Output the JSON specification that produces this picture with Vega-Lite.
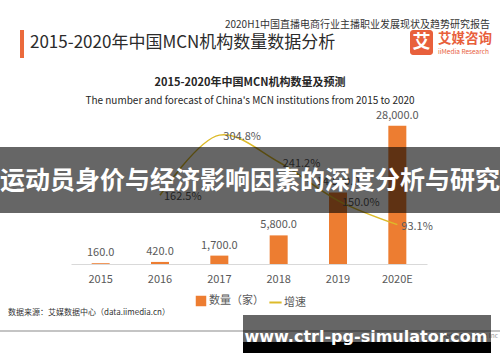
{
  "$schema": "https://vega.github.io/schema/vega-lite/v6.json",
  "width": 356,
  "height": 148,
  "autosize": {"type": "none"},
  "padding": {"left": 71, "top": 116, "right": 73, "bottom": 98},
  "background": "white",
  "config": {
    "font": "Noto Sans CJK SC",
    "view": {"stroke": null},
    "axis": {"labelFont": "Noto Sans CJK SC", "labelColor": "#595959", "labelFontSize": 11, "grid": false, "ticks": false, "domain": false, "title": null},
    "legend": {"labelFont": "Noto Sans CJK SC", "labelColor": "#595959", "labelFontSize": 11, "title": null}
  },
  "datasets": {
    "main": [
      {"year": "2015", "count": 160, "growth": null},
      {"year": "2016", "count": 420, "growth": 1.625},
      {"year": "2017", "count": 1700, "growth": 3.048},
      {"year": "2018", "count": 5800, "growth": 2.412},
      {"year": "2019", "count": 14500, "growth": 1.5},
      {"year": "2020E", "count": 28000, "growth": 0.931}
    ]
  },
  "layer": [
    {
      "data": {"name": "main"},
      "layer": [
        {
          "mark": {"type": "bar", "size": 18},
          "encoding": {
            "x": {"field": "year", "type": "nominal", "sort": null, "axis": {"domain": true, "domainColor": "#d9d9d9", "labelPadding": 9, "labelAngle": 0}},
            "y": {"field": "count", "type": "quantitative", "scale": {"domain": [0, 30000], "nice": false}, "axis": {"values": [0, 5000, 10000, 15000, 20000, 25000, 30000], "format": "d", "labelPadding": 10}},
            "color": {"datum": "数量（家）", "scale": {"range": ["#ED7D31"]}, "legend": {"orient": "none", "legendX": 124, "legendY": 179, "symbolType": "square", "symbolSize": 110, "labelOffset": 2}}
          }
        },
        {
          "mark": {"type": "text", "dy": -10, "fontSize": 11, "color": "#595959"},
          "encoding": {
            "x": {"field": "year", "type": "nominal", "sort": null},
            "y": {"field": "count", "type": "quantitative", "axis": null},
            "text": {"field": "count", "type": "quantitative", "format": ",.1f"}
          }
        }
      ]
    },
    {
      "data": {"name": "main"},
      "transform": [{"filter": "datum.growth != null"}],
      "layer": [
        {
          "mark": {"type": "line", "interpolate": "catmull-rom", "strokeWidth": 1.5},
          "encoding": {
            "x": {"field": "year", "type": "nominal", "sort": null},
            "y": {"field": "growth", "type": "quantitative", "scale": {"domain": [0, 3.5], "nice": false}, "axis": {"orient": "right", "values": [0, 0.5, 1, 1.5, 2, 2.5, 3, 3.5], "format": ".0%", "labelPadding": 12}},
            "stroke": {"datum": "增速", "scale": {"range": ["#DDBB2A"]}, "legend": {"orient": "none", "legendX": 197, "legendY": 179, "symbolType": "stroke", "symbolStrokeWidth": 2, "symbolSize": 150, "labelOffset": 1}}
          }
        },
        {
          "mark": {"type": "text", "align": "left", "dx": 4, "dy": 2, "fontSize": 11, "color": "#595959"},
          "encoding": {
            "x": {"field": "year", "type": "nominal", "sort": null},
            "y": {"field": "growth", "type": "quantitative", "axis": null},
            "text": {"field": "growth", "type": "quantitative", "format": ".1%"}
          }
        }
      ]
    },
    {
      "data": {"values": [{"t": "2015-2020年中国MCN机构数量及预测"}]},
      "mark": {"type": "text", "align": "center", "baseline": "middle", "fontSize": 11, "fontWeight": "bold", "color": "#262626"},
      "encoding": {"x": {"value": 179}, "y": {"value": -33}, "text": {"field": "t"}}
    },
    {
      "data": {"values": [{"t": "The number and forecast of China's MCN institutions from 2015 to 2020"}]},
      "mark": {"type": "text", "align": "center", "baseline": "middle", "fontSize": 10, "color": "#262626"},
      "encoding": {"x": {"value": 179}, "y": {"value": -15}, "text": {"field": "t"}}
    },
    {
      "data": {"values": [{"k": 1}]},
      "mark": {"type": "rect", "color": "#EB6A3C"},
      "encoding": {"x": {"value": -51}, "x2": {"value": -47}, "y": {"value": -86}, "y2": {"value": -58}}
    },
    {
      "data": {"values": [{"t": "2015-2020年中国MCN机构数量数据分析"}]},
      "mark": {"type": "text", "align": "left", "baseline": "middle", "fontSize": 17, "color": "#2b2b2b"},
      "encoding": {"x": {"value": -41}, "y": {"value": -73}, "text": {"field": "t"}}
    },
    {
      "data": {"values": [{"t": "2020H1中国直播电商行业主播职业发展现状及趋势研究报告"}]},
      "mark": {"type": "text", "align": "right", "baseline": "middle", "fontSize": 10, "color": "#333333"},
      "encoding": {"x": {"value": 419}, "y": {"value": -91}, "text": {"field": "t"}}
    },
    {
      "data": {"values": [{"k": 1}]},
      "mark": {"type": "rect", "color": "#E8603C", "cornerRadius": 3},
      "encoding": {"x": {"value": 339}, "x2": {"value": 362}, "y": {"value": -86}, "y2": {"value": -61}}
    },
    {
      "data": {"values": [{"t": "艾"}]},
      "mark": {"type": "text", "align": "center", "baseline": "middle", "fontSize": 18, "fontWeight": "bold", "color": "white"},
      "encoding": {"x": {"value": 350.5}, "y": {"value": -73.5}, "text": {"field": "t"}}
    },
    {
      "data": {"values": [{"t": "艾媒咨询"}]},
      "mark": {"type": "text", "align": "left", "baseline": "middle", "fontSize": 13.5, "fontWeight": "bold", "color": "#E8603C"},
      "encoding": {"x": {"value": 367}, "y": {"value": -77}, "text": {"field": "t"}}
    },
    {
      "data": {"values": [{"t": "iiMedia Research"}]},
      "mark": {"type": "text", "align": "left", "baseline": "middle", "fontSize": 6.5, "color": "#E8603C"},
      "encoding": {"x": {"value": 367}, "y": {"value": -64}, "text": {"field": "t"}}
    },
    {
      "data": {"values": [{"t": "数据来源：艾媒数据中心（data.iimedia.cn）"}]},
      "mark": {"type": "text", "align": "left", "baseline": "middle", "fontSize": 8, "color": "#333333"},
      "encoding": {"x": {"value": -63}, "y": {"value": 197}, "text": {"field": "t"}}
    },
    {
      "data": {"values": [{"k": 1}]},
      "mark": {"type": "rule", "color": "#b0b0b0", "strokeWidth": 1.5},
      "encoding": {"x": {"value": -71}, "x2": {"value": 429}, "y": {"value": 215}}
    },
    {
      "data": {"values": [{"t": "iiMedia Research Inc"}]},
      "mark": {"type": "text", "align": "right", "baseline": "middle", "fontSize": 6.5, "color": "#999999"},
      "encoding": {"x": {"value": 427}, "y": {"value": 220}, "text": {"field": "t"}}
    },
    {
      "data": {"values": [{"k": 1}]},
      "mark": {"type": "rect", "color": "black", "opacity": 0.6},
      "encoding": {"x": {"value": -71}, "x2": {"value": 429}, "y": {"value": 31}, "y2": {"value": 97}}
    },
    {
      "data": {"values": [{"t": "运动员身价与经济影响因素的深度分析与研究"}]},
      "mark": {"type": "text", "align": "center", "baseline": "middle", "fontSize": 25, "fontWeight": "bold", "color": "white"},
      "encoding": {"x": {"value": 179}, "y": {"value": 65}, "text": {"field": "t"}}
    },
    {
      "data": {"values": [{"k": 1}]},
      "mark": {"type": "rect", "color": "black", "opacity": 0.6},
      "encoding": {"x": {"value": 172}, "x2": {"value": 420}, "y": {"value": 199}, "y2": {"value": 226}}
    },
    {
      "data": {"values": [{"k": 1}]},
      "mark": {"type": "rect", "color": "black", "opacity": 1},
      "encoding": {"x": {"value": 172}, "x2": {"value": 420}, "y": {"value": 226}, "y2": {"value": 237}}
    },
    {
      "data": {"values": [{"t": "www.ctrl-pg-simulator.com"}]},
      "mark": {"type": "text", "align": "center", "baseline": "middle", "fontSize": 16, "fontWeight": "bold", "font": "DejaVu Sans", "color": "white"},
      "encoding": {"x": {"value": 295}, "y": {"value": 221}, "text": {"field": "t"}}
    }
  ],
  "resolve": {"scale": {"y": "independent", "x": "shared"}}
}
